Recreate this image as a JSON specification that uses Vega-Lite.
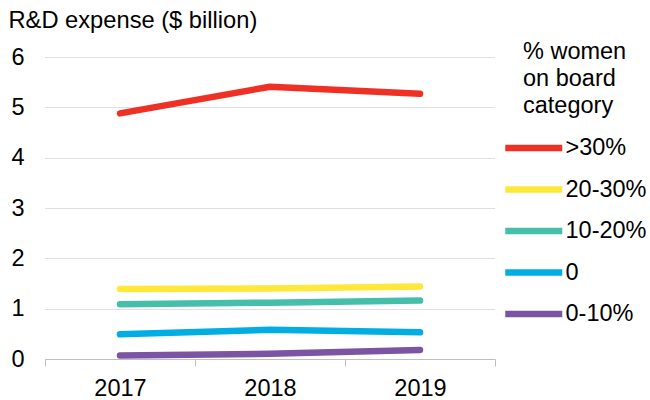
{
  "$schema": "https://vega.github.io/schema/vega-lite/v6.json",
  "width": 450,
  "height": 302,
  "autosize": "none",
  "padding": {"left": 45, "top": 57, "right": 155, "bottom": 41},
  "background": "white",
  "config": {
    "font": "Liberation Sans",
    "view": {"stroke": null}
  },
  "data": {
    "values": [
      {"year": "2017", "category": ">30%", "value": 4.88},
      {"year": "2018", "category": ">30%", "value": 5.41},
      {"year": "2019", "category": ">30%", "value": 5.27},
      {"year": "2017", "category": "20-30%", "value": 1.39},
      {"year": "2018", "category": "20-30%", "value": 1.40},
      {"year": "2019", "category": "20-30%", "value": 1.44},
      {"year": "2017", "category": "10-20%", "value": 1.09},
      {"year": "2018", "category": "10-20%", "value": 1.12},
      {"year": "2019", "category": "10-20%", "value": 1.16},
      {"year": "2017", "category": "0", "value": 0.49},
      {"year": "2018", "category": "0", "value": 0.58},
      {"year": "2019", "category": "0", "value": 0.53},
      {"year": "2017", "category": "0-10%", "value": 0.07},
      {"year": "2018", "category": "0-10%", "value": 0.105},
      {"year": "2019", "category": "0-10%", "value": 0.18}
    ]
  },
  "mark": {"type": "line", "strokeWidth": 6.5, "strokeCap": "round", "strokeJoin": "round"},
  "encoding": {
    "x": {
      "field": "year",
      "type": "ordinal",
      "scale": {"type": "band", "paddingInner": 0, "paddingOuter": 0},
      "axis": {
        "title": null,
        "labelAngle": 0,
        "labelFontSize": 23.5,
        "labelColor": "#000000",
        "labelPadding": 10,
        "tickBand": "extent",
        "tickSize": 7,
        "tickColor": "#BFBFBF",
        "domainColor": "#BFBFBF",
        "grid": false
      }
    },
    "y": {
      "field": "value",
      "type": "quantitative",
      "scale": {"domain": [0, 6], "nice": false},
      "axis": {
        "values": [0, 1, 2, 3, 4, 5, 6],
        "title": "R&D expense ($ billion)",
        "titleAngle": 0,
        "titleAlign": "left",
        "titleBaseline": "alphabetic",
        "titleX": -37,
        "titleY": -30,
        "titleFontSize": 23.7,
        "titleFontWeight": "normal",
        "titleColor": "#000000",
        "labelFontSize": 23.5,
        "labelColor": "#000000",
        "labelPadding": 21,
        "ticks": false,
        "domain": false,
        "grid": true,
        "gridColor": "#BFBFBF",
        "gridDash": [1, 1],
        "gridWidth": 1
      }
    },
    "color": {
      "field": "category",
      "type": "nominal",
      "sort": [">30%", "20-30%", "10-20%", "0", "0-10%"],
      "scale": {
        "domain": [">30%", "20-30%", "10-20%", "0", "0-10%"],
        "range": ["#EE3124", "#FFE83A", "#45BFA9", "#00AEE3", "#7B54A3"]
      },
      "legend": {
        "orient": "none",
        "legendX": 478,
        "legendY": -17,
        "title": ["% women", "on board", "category"],
        "titleFontSize": 23.5,
        "titleFontWeight": "normal",
        "titleColor": "#000000",
        "titleLineHeight": 27,
        "titlePadding": 13,
        "symbolType": "M-2,0H2",
        "symbolSize": 812,
        "symbolStrokeWidth": 6.5,
        "symbolFillColor": "transparent",
        "symbolOffset": -6.75,
        "labelFontSize": 23.5,
        "labelColor": "#000000",
        "labelOffset": 14.25,
        "rowPadding": 10.5
      }
    }
  }
}
